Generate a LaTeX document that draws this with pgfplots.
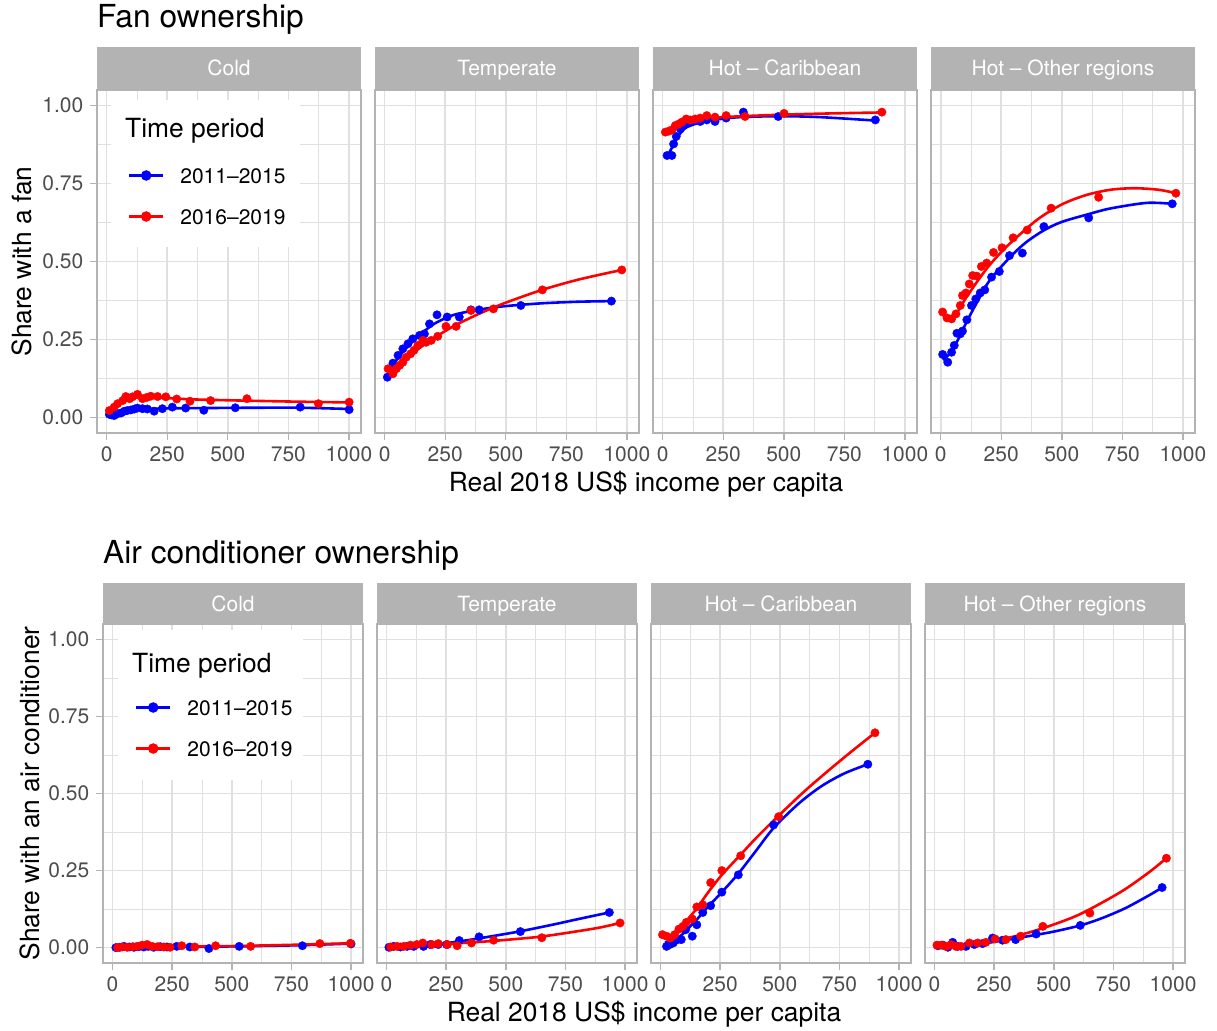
\documentclass[border=0pt]{standalone}
\usepackage{pgfplots}
\pgfplotsset{compat=1.18}
\usepackage{fontspec}
\setmainfont{TeX Gyre Heros}
\definecolor{g70}{HTML}{B3B3B3}
\definecolor{g87}{HTML}{E0E0E0}
\definecolor{g30}{HTML}{4D4D4D}
\newcommand\fs[1]{\fontsize{#1}{#1}\selectfont}
\pgfplotsset{
  panel/.style={
    scale only axis, xmin=-40, xmax=1050, ymin=-0.05, ymax=1.05,
    xtick={0,250,500,750,1000}, xticklabels={0,250,500,750,1000},
    ytick={0,0.25,0.5,0.75,1},
    minor xtick={125,375,625,875}, minor ytick={0.125,0.375,0.625,0.875},
    grid=both,
    major grid style={draw=g87, line width=1.6pt},
    minor grid style={draw=g87, line width=0.8pt},
    axis line style={draw=g70, line width=1.4pt},
    tick align=outside, major tick length=6.6pt, minor tick length=0pt,
    xtick pos=left, ytick pos=left,
    tick style={draw=g70, line width=1.4pt},
    xticklabel style={font=\fs{21}, text=g30, inner sep=0pt, anchor=north, yshift=-6.5pt},
    yticklabel style={font=\fs{21}, text=g30, inner sep=0pt, anchor=east, xshift=-7pt},
    legend image code/.code={\draw[mark repeat=2,mark phase=2,#1] plot coordinates {(0pt,0pt) (17pt,0pt) (34pt,0pt)};},
  },
  lefty/.style={yticklabels={0.00,0.25,0.50,0.75,1.00}},
  noy/.style={yticklabels={}, ytick style={draw=none}},
  toprow/.style={panel, width=264pt, height=343pt},
  botrow/.style={panel, width=260pt, height=339pt},
  pts/.style={only marks, mark=*, mark size=4.2pt, mark options={draw=none}, forget plot},
  ln/.style={no marks, line width=2.6pt, smooth, forget plot},
  leg/.style={legend cell align=left, legend style={at={#1}, anchor=north west, draw=none, fill=none,
     inner sep=0pt, outer sep=0pt, row sep=26pt, column sep=16pt, font=\fs{21},
     nodes={inner sep=0pt, text height=15pt, text depth=0pt}}},
}
\newcommand\strip[6]{%
  \fill[g70] (#1pt,-#3pt) rectangle ({#1pt+#2pt},-#4pt);
  \node[anchor=base, text=white, font=\fs{21}, inner sep=0pt] at ({#1pt+#2pt/2},-#5pt) {#6};}
\begin{document}
\begin{tikzpicture}
\useasboundingbox (0,0) rectangle (1217pt,-1030pt);
% ---------------- titles
\node[anchor=base west, inner sep=0pt, font=\fs{31.7}] at (97pt,-27.5pt) {Fan ownership};
\node[anchor=base west, inner sep=0pt, font=\fs{31.7}] at (103pt,-563pt) {Air conditioner ownership};
% ---------------- strips
\strip{97}{264}{47}{90}{76}{Cold}
\strip{375}{264}{47}{90}{76}{Temperate}
\strip{653}{264}{47}{90}{76}{Hot – Caribbean}
\strip{931}{264}{47}{90}{76}{Hot – Other regions}
\strip{103}{260}{583}{624}{611}{Cold}
\strip{377}{260}{583}{624}{611}{Temperate}
\strip{651}{260}{583}{624}{611}{Hot – Caribbean}
\strip{925}{260}{583}{624}{611}{Hot – Other regions}
% ---------------- top row
\begin{axis}[toprow, lefty, at={(97pt,-90pt)}, anchor=north west, leg={(rel axis cs:0.1174,0.7726)}]
\fill[white] (rel axis cs:0.053,0.971) rectangle (rel axis cs:0.769,0.542);
\addlegendimage{blue, line width=2.4pt, mark=*, mark size=4pt}
\addlegendentry{2011–2015}
\addlegendimage{red, line width=2.4pt, mark=*, mark size=4pt}
\addlegendentry{2016–2019}
\addplot[pts, blue] coordinates {(11,0.010) (20,0.008) (31,0.006) (45,0.012) (59,0.014) (73,0.020) (85,0.022) (100,0.024) (115,0.027) (127,0.030) (148,0.028) (168,0.027) (196,0.020) (230,0.028) (271,0.033) (326,0.030) (401,0.023) (531,0.031) (799,0.033) (1001,0.025)};
\addplot[ln, blue] coordinates {(11,0.008) (30,0.009) (50,0.015) (75,0.020) (100,0.024) (150,0.027) (250,0.029) (400,0.030) (600,0.031) (800,0.031) (1001,0.027)};
\addplot[pts, red] coordinates {(11,0.022) (31,0.033) (45,0.044) (66,0.054) (79,0.067) (95,0.060) (107,0.066) (127,0.074) (148,0.060) (165,0.064) (182,0.068) (210,0.067) (244,0.066) (289,0.059) (344,0.052) (429,0.054) (579,0.060) (874,0.044) (1001,0.049)};
\addplot[ln, red] coordinates {(11,0.022) (30,0.034) (50,0.046) (75,0.056) (100,0.062) (130,0.065) (175,0.065) (250,0.062) (350,0.058) (500,0.055) (750,0.051) (1001,0.048)};
\end{axis}
\begin{axis}[toprow, noy, at={(375pt,-90pt)}, anchor=north west]
\addplot[pts, blue] coordinates {(11,0.129) (34,0.174) (55,0.199) (75,0.220) (96,0.236) (116,0.252) (144,0.263) (164,0.268) (185,0.300) (216,0.329) (258,0.322) (308,0.322) (356,0.345) (390,0.345) (562,0.359) (936,0.373)};
\addplot[ln, blue] coordinates {(11,0.132) (50,0.185) (100,0.232) (150,0.268) (200,0.298) (250,0.318) (300,0.332) (400,0.347) (500,0.357) (650,0.366) (800,0.371) (936,0.373)};
\addplot[pts, red] coordinates {(14,0.156) (34,0.140) (48,0.156) (62,0.167) (75,0.177) (89,0.193) (107,0.204) (121,0.215) (137,0.231) (158,0.247) (171,0.241) (192,0.247) (219,0.260) (253,0.292) (295,0.292) (356,0.343) (449,0.348) (651,0.409) (979,0.473)};
\addplot[ln, red] coordinates {(14,0.148) (50,0.165) (100,0.196) (150,0.226) (200,0.253) (250,0.277) (300,0.299) (400,0.336) (500,0.368) (650,0.409) (800,0.442) (979,0.473)};
\end{axis}
\begin{axis}[toprow, noy, at={(653pt,-90pt)}, anchor=north west]
\addplot[pts, blue] coordinates {(18,0.840) (38,0.840) (45,0.877) (56,0.901) (73,0.925) (86,0.936) (107,0.947) (127,0.952) (155,0.949) (182,0.954) (216,0.949) (262,0.960) (333,0.979) (477,0.965) (878,0.954)};
\addplot[ln, blue] coordinates {(18,0.835) (40,0.868) (60,0.897) (80,0.918) (100,0.931) (150,0.945) (200,0.953) (300,0.962) (400,0.965) (500,0.966) (650,0.963) (878,0.952)};
\addplot[pts, red] coordinates {(11,0.915) (25,0.918) (38,0.922) (52,0.936) (66,0.941) (79,0.947) (97,0.957) (114,0.954) (134,0.957) (155,0.960) (182,0.968) (216,0.963) (262,0.968) (340,0.965) (501,0.975) (905,0.979)};
\addplot[ln, red] coordinates {(11,0.905) (40,0.925) (80,0.943) (120,0.952) (200,0.960) (300,0.965) (500,0.971) (700,0.975) (905,0.978)};
\end{axis}
\begin{axis}[toprow, noy, at={(931pt,-90pt)}, anchor=north west]
\addplot[pts, blue] coordinates {(8,0.202) (29,0.177) (45,0.209) (56,0.231) (67,0.270) (81,0.268) (90,0.277) (108,0.313) (127,0.359) (145,0.380) (163,0.399) (182,0.409) (210,0.450) (242,0.468) (284,0.519) (337,0.527) (426,0.612) (611,0.640) (956,0.685)};
\addplot[ln, blue] coordinates {(8,0.185) (30,0.198) (56,0.228) (80,0.262) (108,0.308) (145,0.362) (200,0.437) (284,0.512) (350,0.560) (426,0.600) (500,0.627) (611,0.652) (700,0.670) (850,0.688) (956,0.685)};
\addplot[pts, red] coordinates {(8,0.338) (26,0.319) (45,0.316) (63,0.332) (81,0.359) (90,0.391) (104,0.399) (118,0.428) (132,0.455) (149,0.453) (168,0.484) (190,0.495) (218,0.529) (253,0.544) (299,0.576) (357,0.601) (456,0.671) (652,0.706) (971,0.719)};
\addplot[ln, red] coordinates {(8,0.330) (30,0.316) (50,0.321) (75,0.345) (100,0.378) (150,0.435) (200,0.487) (250,0.530) (300,0.568) (400,0.635) (500,0.683) (600,0.713) (700,0.730) (800,0.735) (900,0.730) (971,0.719)};
\end{axis}
% ---------------- bottom row
\begin{axis}[botrow, lefty, at={(103pt,-624pt)}, anchor=north west, leg={(rel axis cs:0.1231,0.7758)}]
\fill[white] (rel axis cs:0.058,0.982) rectangle (rel axis cs:0.769,0.540);
\addlegendimage{blue, line width=2.4pt, mark=*, mark size=4pt}
\addlegendentry{2011–2015}
\addlegendimage{red, line width=2.4pt, mark=*, mark size=4pt}
\addlegendentry{2016–2019}
\addplot[pts, blue] coordinates {(14,0.000) (30,0.001) (48,0.004) (70,0.002) (90,0.001) (110,0.003) (131,0.002) (150,0.004) (172,0.001) (200,0.003) (228,0.002) (269,0.004) (324,0.002) (404,-0.003) (531,0.004) (796,0.006) (1000,0.012)};
\addplot[ln, blue] coordinates {(14,0.001) (200,0.002) (400,0.003) (600,0.005) (800,0.008) (1000,0.013)};
\addplot[pts, red] coordinates {(21,0.000) (40,0.002) (62,0.001) (85,0.003) (103,0.004) (124,0.008) (145,0.010) (166,0.004) (190,0.003) (215,0.002) (241,0.001) (290,0.006) (345,0.002) (432,0.006) (579,0.004) (869,0.013) (997,0.014)};
\addplot[ln, red] coordinates {(21,0.001) (150,0.004) (300,0.004) (500,0.005) (750,0.009) (997,0.014)};
\end{axis}
\begin{axis}[botrow, noy, at={(377pt,-624pt)}, anchor=north west]
\addplot[pts, blue] coordinates {(10,0.001) (30,0.004) (58,0.002) (86,0.004) (114,0.004) (155,0.004) (183,0.010) (217,0.010) (252,0.010) (305,0.023) (388,0.035) (561,0.052) (934,0.114)};
\addplot[ln, blue] coordinates {(10,0.000) (100,0.003) (200,0.010) (305,0.020) (388,0.030) (450,0.038) (561,0.053) (700,0.075) (800,0.092) (934,0.114)};
\addplot[pts, red] coordinates {(17,0.002) (44,0.004) (72,0.004) (100,0.008) (127,0.010) (152,0.015) (190,0.010) (217,0.013) (255,0.010) (296,0.006) (356,0.015) (449,0.024) (651,0.032) (979,0.080)};
\addplot[ln, red] coordinates {(17,0.001) (100,0.004) (200,0.009) (300,0.014) (400,0.019) (500,0.025) (651,0.036) (800,0.053) (900,0.066) (979,0.080)};
\end{axis}
\begin{axis}[botrow, noy, at={(651pt,-624pt)}, anchor=north west]
\addplot[pts, blue] coordinates {(25,0.004) (39,0.010) (53,0.015) (66,0.024) (87,0.026) (105,0.058) (133,0.037) (152,0.074) (177,0.114) (210,0.136) (257,0.180) (326,0.236) (474,0.398) (869,0.595)};
\addplot[ln, blue] coordinates {(18,0.017) (53,0.022) (90,0.042) (122,0.067) (160,0.098) (191,0.126) (257,0.180) (326,0.240) (400,0.314) (474,0.388) (580,0.468) (675,0.524) (770,0.565) (869,0.595)};
\addplot[pts, red] coordinates {(8,0.042) (25,0.037) (41,0.031) (59,0.042) (77,0.060) (94,0.069) (108,0.082) (133,0.093) (152,0.132) (177,0.139) (210,0.211) (257,0.250) (336,0.298) (495,0.425) (899,0.697)};
\addplot[ln, red] coordinates {(8,0.039) (30,0.033) (50,0.036) (80,0.058) (110,0.088) (150,0.125) (180,0.158) (210,0.190) (257,0.236) (336,0.302) (400,0.355) (495,0.428) (600,0.505) (700,0.572) (800,0.636) (899,0.697)};
\end{axis}
\begin{axis}[botrow, noy, at={(925pt,-624pt)}, anchor=north west]
\addplot[pts, blue] coordinates {(14,0.006) (35,0.008) (56,0.001) (76,0.017) (97,0.004) (132,0.004) (167,0.010) (201,0.013) (243,0.031) (285,0.024) (340,0.026) (426,0.044) (611,0.072) (954,0.195)};
\addplot[ln, blue] coordinates {(14,0.005) (100,0.006) (200,0.013) (300,0.025) (400,0.038) (500,0.052) (611,0.072) (700,0.095) (800,0.128) (900,0.170) (954,0.195)};
\addplot[pts, red] coordinates {(10,0.008) (28,0.008) (49,0.004) (69,0.010) (90,0.004) (111,0.004) (146,0.015) (181,0.015) (215,0.017) (254,0.028) (299,0.026) (361,0.037) (454,0.069) (651,0.112) (972,0.290)};
\addplot[ln, red] coordinates {(10,0.007) (100,0.008) (200,0.016) (300,0.030) (400,0.050) (500,0.075) (600,0.105) (700,0.145) (800,0.190) (900,0.245) (972,0.290)};
\end{axis}
% ---------------- legend titles, axis titles
\node[anchor=base west, inner sep=0pt, font=\fs{26.4}] at (125pt,-137pt) {Time period};
\node[anchor=base west, inner sep=0pt, font=\fs{26.4}] at (132pt,-672pt) {Time period};
\node[anchor=base, inner sep=0pt, font=\fs{26.4}] at (646pt,-491.7pt) {Real 2018 US\$ income per capita};
\node[anchor=base, inner sep=0pt, font=\fs{26.4}] at (644pt,-1021pt) {Real 2018 US\$ income per capita};
\node[anchor=base, rotate=90, inner sep=0pt, font=\fs{26.4}] at (31.5pt,-261.5pt) {Share with a fan};
\node[anchor=base, rotate=90, inner sep=0pt, font=\fs{26.4}] at (39pt,-793.5pt) {Share with an air conditioner};
\end{tikzpicture}
\end{document}
